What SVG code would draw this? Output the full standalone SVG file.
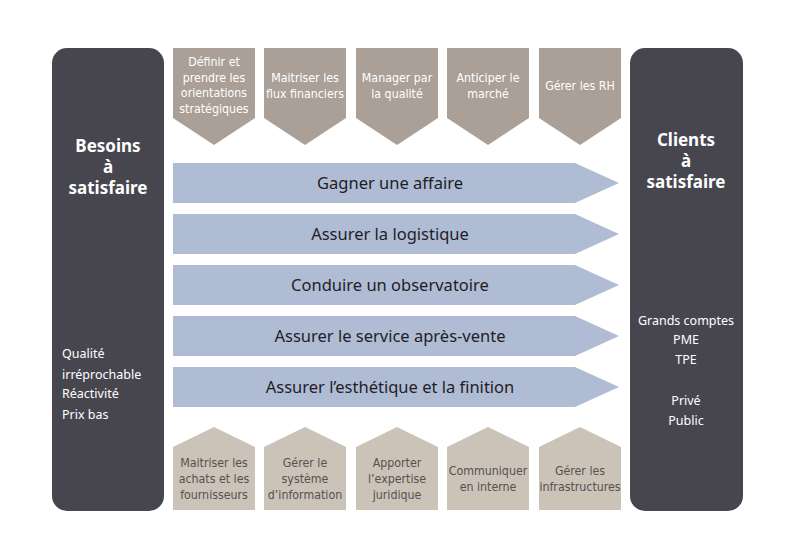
<svg xmlns="http://www.w3.org/2000/svg" width="794" height="559" viewBox="0 0 794 559">
<style>
.panel{fill:#47464f}
.top{fill:#aaa097}
.bot{fill:#cbc2b8}
.arr{fill:#b0bcd3}
.tt{font-family:"DejaVu Sans Condensed","Liberation Sans",sans-serif;font-size:12.3px;fill:#ffffff;text-anchor:middle;font-weight:300}
.bt{font-family:"DejaVu Sans Condensed","Liberation Sans",sans-serif;font-size:12.3px;fill:#55524f;text-anchor:middle;font-weight:300}
.at{font-family:"Noto Sans","Open Sans",sans-serif;font-size:16.5px;fill:#1e1e28;text-anchor:middle}
.hd{font-family:"Noto Sans","Open Sans",sans-serif;font-size:17px;font-weight:bold;fill:#ffffff;text-anchor:middle}
.ls{font-family:"Noto Sans","Open Sans",sans-serif;font-size:12.5px;fill:#ffffff}
.rs{font-family:"Noto Sans","Open Sans",sans-serif;font-size:12.5px;fill:#ffffff;text-anchor:middle}
</style>
<rect width="794" height="559" fill="#ffffff"/>
<g id="besoins">
<rect class="panel" x="52" y="48" width="112" height="463" rx="15"/>
<text class="hd" x="108" y="152">Besoins</text>
<text class="hd" x="108" y="173">à</text>
<text class="hd" x="108" y="194">satisfaire</text>
<text class="ls" x="62" y="358">Qualité</text>
<text class="ls" x="62" y="379">irréprochable</text>
<text class="ls" x="62" y="398">Réactivité</text>
<text class="ls" x="62" y="419">Prix bas</text>
</g>
<g id="clients">
<rect class="panel" x="630" y="48" width="113" height="463" rx="15"/>
<text class="hd" x="686" y="146">Clients</text>
<text class="hd" x="686" y="167">à</text>
<text class="hd" x="686" y="188">satisfaire</text>
<text class="rs" x="686" y="325">Grands comptes</text>
<text class="rs" x="686" y="344">PME</text>
<text class="rs" x="686" y="364">TPE</text>
<text class="rs" x="686" y="405">Privé</text>
<text class="rs" x="686" y="425">Public</text>
</g>
<g id="top1"><path class="top" d="M173 48H255V118L214 145L173 118Z"/>
<text class="tt" x="214" y="66">Définir et</text><text class="tt" x="214" y="82">prendre les</text><text class="tt" x="214" y="97">orientations</text><text class="tt" x="214" y="113">stratégiques</text></g>
<g id="top2"><path class="top" d="M264 48H346V118L305 145L264 118Z"/>
<text class="tt" x="305" y="82">Maitriser les</text><text class="tt" x="305" y="98">flux financiers</text></g>
<g id="top3"><path class="top" d="M356 48H438V118L397 145L356 118Z"/>
<text class="tt" x="397" y="82">Manager par</text><text class="tt" x="397" y="98">la qualité</text></g>
<g id="top4"><path class="top" d="M447 48H529V118L488 145L447 118Z"/>
<text class="tt" x="488" y="82">Anticiper le</text><text class="tt" x="488" y="98">marché</text></g>
<g id="top5"><path class="top" d="M539 48H621V118L580 145L539 118Z"/>
<text class="tt" x="580" y="90">Gérer les RH</text></g>
<g id="arrow1"><path class="arr" d="M173 163H575L619 183L575 203H173Z"/><text class="at" x="390" y="189">Gagner une affaire</text></g>
<g id="arrow2"><path class="arr" d="M173 214H575L619 234L575 254H173Z"/><text class="at" x="390" y="240">Assurer la logistique</text></g>
<g id="arrow3"><path class="arr" d="M173 265H575L619 285L575 305H173Z"/><text class="at" x="390" y="291">Conduire un observatoire</text></g>
<g id="arrow4"><path class="arr" d="M173 316H575L619 336L575 356H173Z"/><text class="at" x="390" y="342">Assurer le service après-vente</text></g>
<g id="arrow5"><path class="arr" d="M173 367H575L619 387L575 407H173Z"/><text class="at" x="390" y="393">Assurer l’esthétique et la finition</text></g>
<g id="bot1"><path class="bot" d="M173 447L214 427L255 447V510H173Z"/>
<text class="bt" x="214" y="467">Maitriser les</text><text class="bt" x="214" y="483">achats et les</text><text class="bt" x="214" y="499">fournisseurs</text></g>
<g id="bot2"><path class="bot" d="M264 447L305 427L346 447V510H264Z"/>
<text class="bt" x="305" y="467">Gérer le</text><text class="bt" x="305" y="483">système</text><text class="bt" x="305" y="499">d’information</text></g>
<g id="bot3"><path class="bot" d="M356 447L397 427L438 447V510H356Z"/>
<text class="bt" x="397" y="467">Apporter</text><text class="bt" x="397" y="483">l’expertise</text><text class="bt" x="397" y="499">juridique</text></g>
<g id="bot4"><path class="bot" d="M447 447L488 427L529 447V510H447Z"/>
<text class="bt" x="488" y="475">Communiquer</text><text class="bt" x="488" y="491">en interne</text></g>
<g id="bot5"><path class="bot" d="M539 447L580 427L621 447V510H539Z"/>
<text class="bt" x="580" y="475">Gérer les</text><text class="bt" x="580" y="491">infrastructures</text></g>
<g id="connectors"></g>
</svg>
